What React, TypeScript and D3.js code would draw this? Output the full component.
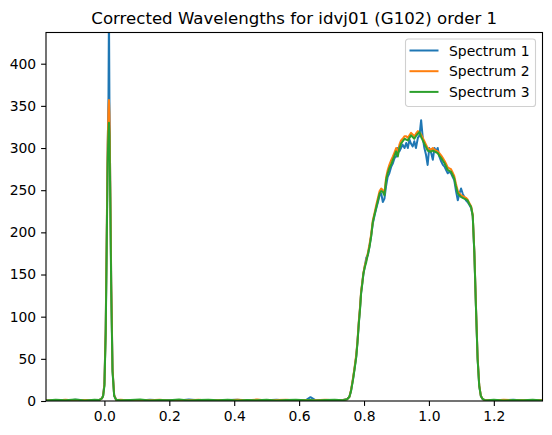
import { useRef, useEffect } from 'react';
import * as d3 from 'd3';

// wavelength grid (microns) shared by the three extracted spectra
const wavelength = [
  -0.18, -0.15, -0.12, -0.09, -0.06, -0.03, -0.015, -0.008, -0.004, 0.0,
  0.004, 0.007, 0.01, 0.0125, 0.014, 0.0155, 0.018, 0.021, 0.025, 0.03,
  0.036,
  0.05, 0.08, 0.11, 0.14, 0.17, 0.2, 0.23, 0.26, 0.29, 0.32,
  0.35, 0.38, 0.41, 0.44, 0.47, 0.5, 0.53, 0.56, 0.59, 0.62,
  0.635, 0.65, 0.68, 0.71, 0.735,
  0.748, 0.755, 0.76, 0.766, 0.771, 0.776, 0.78, 0.784, 0.788, 0.791,
  0.795, 0.798, 0.802, 0.807, 0.812, 0.817, 0.822, 0.827, 0.833, 0.838,
  0.843, 0.848, 0.853, 0.858, 0.863, 0.868, 0.873, 0.878, 0.884, 0.889,
  0.894, 0.899,
  0.904, 0.909, 0.914, 0.919, 0.925, 0.93, 0.935, 0.94, 0.945, 0.95,
  0.955, 0.96, 0.966, 0.971, 0.976, 0.981, 0.986, 0.991, 0.996, 1.001,
  1.007, 1.012, 1.017, 1.022, 1.027, 1.032, 1.038, 1.043, 1.048, 1.053,
  1.058, 1.063, 1.068, 1.073, 1.078, 1.083, 1.089, 1.094, 1.099, 1.104,
  1.109, 1.114, 1.119,
  1.124, 1.13, 1.135, 1.14, 1.145, 1.15, 1.155, 1.16, 1.166, 1.172,
  1.18, 1.2, 1.23, 1.26, 1.29, 1.32, 1.35,
];

const spectrum1 = [
  0.6, 1.2, 0.4, 1.5, 0.8, 1.1, 1.6, 3, 6, 20,
  86, 188, 298, 360, 465, 355, 258, 138, 37, 7,
  1.5,
  0.7, 1.3, 0.5, 1.4, 0.9, 1.2, 0.6, 1.7, 0.8, 1.3,
  0.5, 1.1, 1.6, 0.7, 1.2, 0.9, 1.4, 0.6, 1.1, 0.8,
  4.5, 1.0, 1.3, 0.7, 1.2,
  2.2, 5, 12, 26, 39, 53, 71, 93, 112, 128,
  141, 150, 159, 170, 173, 184, 196, 210, 221, 229,
  236, 244, 246, 236, 240, 255, 266, 270, 278, 282,
  288, 290,
  300, 296, 300, 304, 300, 306, 300, 310, 305, 302,
  308, 300, 312, 315, 333, 312, 300, 292, 280, 300,
  294, 286, 300, 296, 300, 290, 284, 280, 278, 274,
  270, 272, 270, 266, 262, 250, 238, 246, 252, 246,
  242, 238, 236,
  233, 229, 219, 176, 111, 51, 18, 6, 2.2, 1.1,
  0.6, 1.3, 0.8, 1.5, 0.7, 1.2, 0.9,
];

const spectrum2 = [
  0.9, 0.5, 1.6, 0.7, 1.3, 0.6, 1.4, 3, 6, 20,
  86, 195, 305, 346, 357, 340, 262, 142, 38, 7,
  1.2,
  1.5, 0.6, 1.1, 0.8, 1.6, 0.7, 1.3, 1.0, 1.5, 0.6,
  1.2, 0.9, 1.4, 0.8, 1.7, 0.6, 1.1, 1.4, 0.7, 1.2,
  1.0, 0.8, 1.5, 0.9, 1.3,
  2.0, 5, 13, 27, 40, 55, 72, 95, 113, 130,
  142, 152, 160, 167, 176, 186, 198, 214, 224, 233,
  241, 249, 252, 250, 247, 265, 274, 280, 286, 290,
  295, 300,
  294, 304, 309, 311, 314, 314, 312, 315, 318, 316,
  314, 317, 320, 318, 316, 312, 308, 304, 300, 299,
  298, 300, 298, 297, 296, 294, 291, 288, 285, 281,
  277, 276, 275, 271, 267, 258, 249, 246, 244, 243,
  242, 241, 239,
  235, 231, 221, 177, 112, 52, 19, 6, 2.4, 0.8,
  1.2, 0.7, 1.4, 0.9, 1.3, 0.6, 1.1,
];

const spectrum3 = [
  0.5, 1.4, 0.9, 1.8, 0.6, 1.5, 1.2, 3, 6, 18,
  80, 180, 282, 320, 330, 315, 242, 130, 35, 6,
  1.4,
  0.8, 1.2, 1.7, 0.6, 1.3, 0.9, 1.9, 0.7, 1.2, 1.6,
  0.8, 1.4, 0.6, 1.1, 0.9, 1.5, 0.7, 1.2, 1.6, 0.9,
  1.3, 0.6, 1.1, 1.4, 0.9,
  2.1, 5, 12, 25, 38, 52, 70, 92, 110, 128,
  140, 151, 158, 165, 174, 183, 195, 212, 222, 230,
  238, 246, 249, 248, 244, 262, 270, 276, 281, 286,
  291, 296,
  290, 300, 305, 308, 311, 310, 309, 312, 315, 313,
  311, 314, 317, 319, 313, 309, 305, 301, 297, 296,
  296, 297, 296, 295, 294, 291, 288, 285, 282, 278,
  274, 273, 272, 268, 264, 255, 246, 244, 242, 241,
  240, 239, 238,
  234, 230, 220, 175, 110, 50, 18, 6, 2.0, 1.3,
  0.9, 1.5, 0.6, 1.2, 0.8, 1.4, 0.7,
];

const seriesNames = ['Spectrum 1', 'Spectrum 2', 'Spectrum 3'];
const seriesColors = ['#1f77b4', '#ff7f0e', '#2ca02c'];
const seriesValues = [spectrum1, spectrum2, spectrum3];

const xTicks = [0.0, 0.2, 0.4, 0.6, 0.8, 1.0, 1.2];
const yTicks = [0, 50, 100, 150, 200, 250, 300, 350, 400];
const xDomain = [-0.18, 1.35];
const yDomain = [0, 437];

export default function App() {
  const svgRef = useRef<SVGSVGElement>(null);

  useEffect(() => {
    if (!svgRef.current) return;
    const svg = d3.select(svgRef.current);
    svg.selectAll('*').remove();
    const W = 552, H = 435;
    const pad = { top: 32.5, right: 9.5, bottom: 34, left: 46 };
    const w = W - pad.left - pad.right, h = H - pad.top - pad.bottom;
    const font = 'DejaVu Sans, sans-serif';

    const x = d3.scaleLinear().domain(xDomain).range([0, w]);
    const y = d3.scaleLinear().domain(yDomain).range([h, 0]);

    svg.append('defs').append('clipPath').attr('id', 'plot-clip')
      .append('rect').attr('width', w).attr('height', h);

    const g = svg.append('g').attr('transform', `translate(${pad.left},${pad.top})`);

    const line = d3.line<number>()
      .x((_, i) => x(wavelength[i]))
      .y(d => y(d));

    const plot = g.append('g').attr('clip-path', 'url(#plot-clip)');
    seriesValues.forEach((vals, k) => {
      plot.append('path')
        .attr('d', line(vals))
        .attr('fill', 'none')
        .attr('stroke', seriesColors[k])
        .attr('stroke-width', 2)
        .attr('stroke-linejoin', 'round');
    });

    // axes
    const xAxis = g.append('g').attr('transform', `translate(0,${h})`)
      .call(d3.axisBottom(x).tickValues(xTicks).tickFormat(d3.format('.1f')).tickSize(4.9).tickPadding(4.9));
    const yAxis = g.append('g')
      .call(d3.axisLeft(y).tickValues(yTicks).tickFormat(d3.format('d')).tickSize(4.9).tickPadding(4.9));
    [xAxis, yAxis].forEach(a => {
      a.select('.domain').remove();
      a.selectAll('line').attr('stroke', '#000').attr('stroke-width', 1.1);
      a.selectAll('text').attr('fill', '#000').style('font-family', font).style('font-size', '13.9px');
    });

    // frame
    g.append('rect').attr('width', w).attr('height', h)
      .attr('fill', 'none').attr('stroke', '#000').attr('stroke-width', 1.1);

    // title
    svg.append('text').attr('x', pad.left + w / 2).attr('y', 24)
      .attr('text-anchor', 'middle').style('font-family', font).style('font-size', '16.6px')
      .attr('fill', '#000').text('Corrected Wavelengths for idvj01 (G102) order 1');

    // legend
    const lg = svg.append('g').attr('transform', 'translate(405.5,39)');
    lg.append('rect').attr('width', 130).attr('height', 67.5).attr('rx', 2.8)
      .attr('fill', '#fff').attr('fill-opacity', 0.8).attr('stroke', '#d0d0d0').attr('stroke-width', 1.1);
    seriesNames.forEach((name, k) => {
      const ly = 11.5 + k * 20.7;
      lg.append('line').attr('x1', 4).attr('x2', 33).attr('y1', ly).attr('y2', ly)
        .attr('stroke', seriesColors[k]).attr('stroke-width', 2);
      lg.append('text').attr('x', 43.5).attr('y', ly + 5)
        .style('font-family', font).style('font-size', '13.9px').attr('fill', '#000').text(name);
    });
  }, []);

  return (
    <svg ref={svgRef} width={552} height={435}
      style={{ position: 'absolute', left: 0, top: 0, background: '#fff' }} />
  );
}
